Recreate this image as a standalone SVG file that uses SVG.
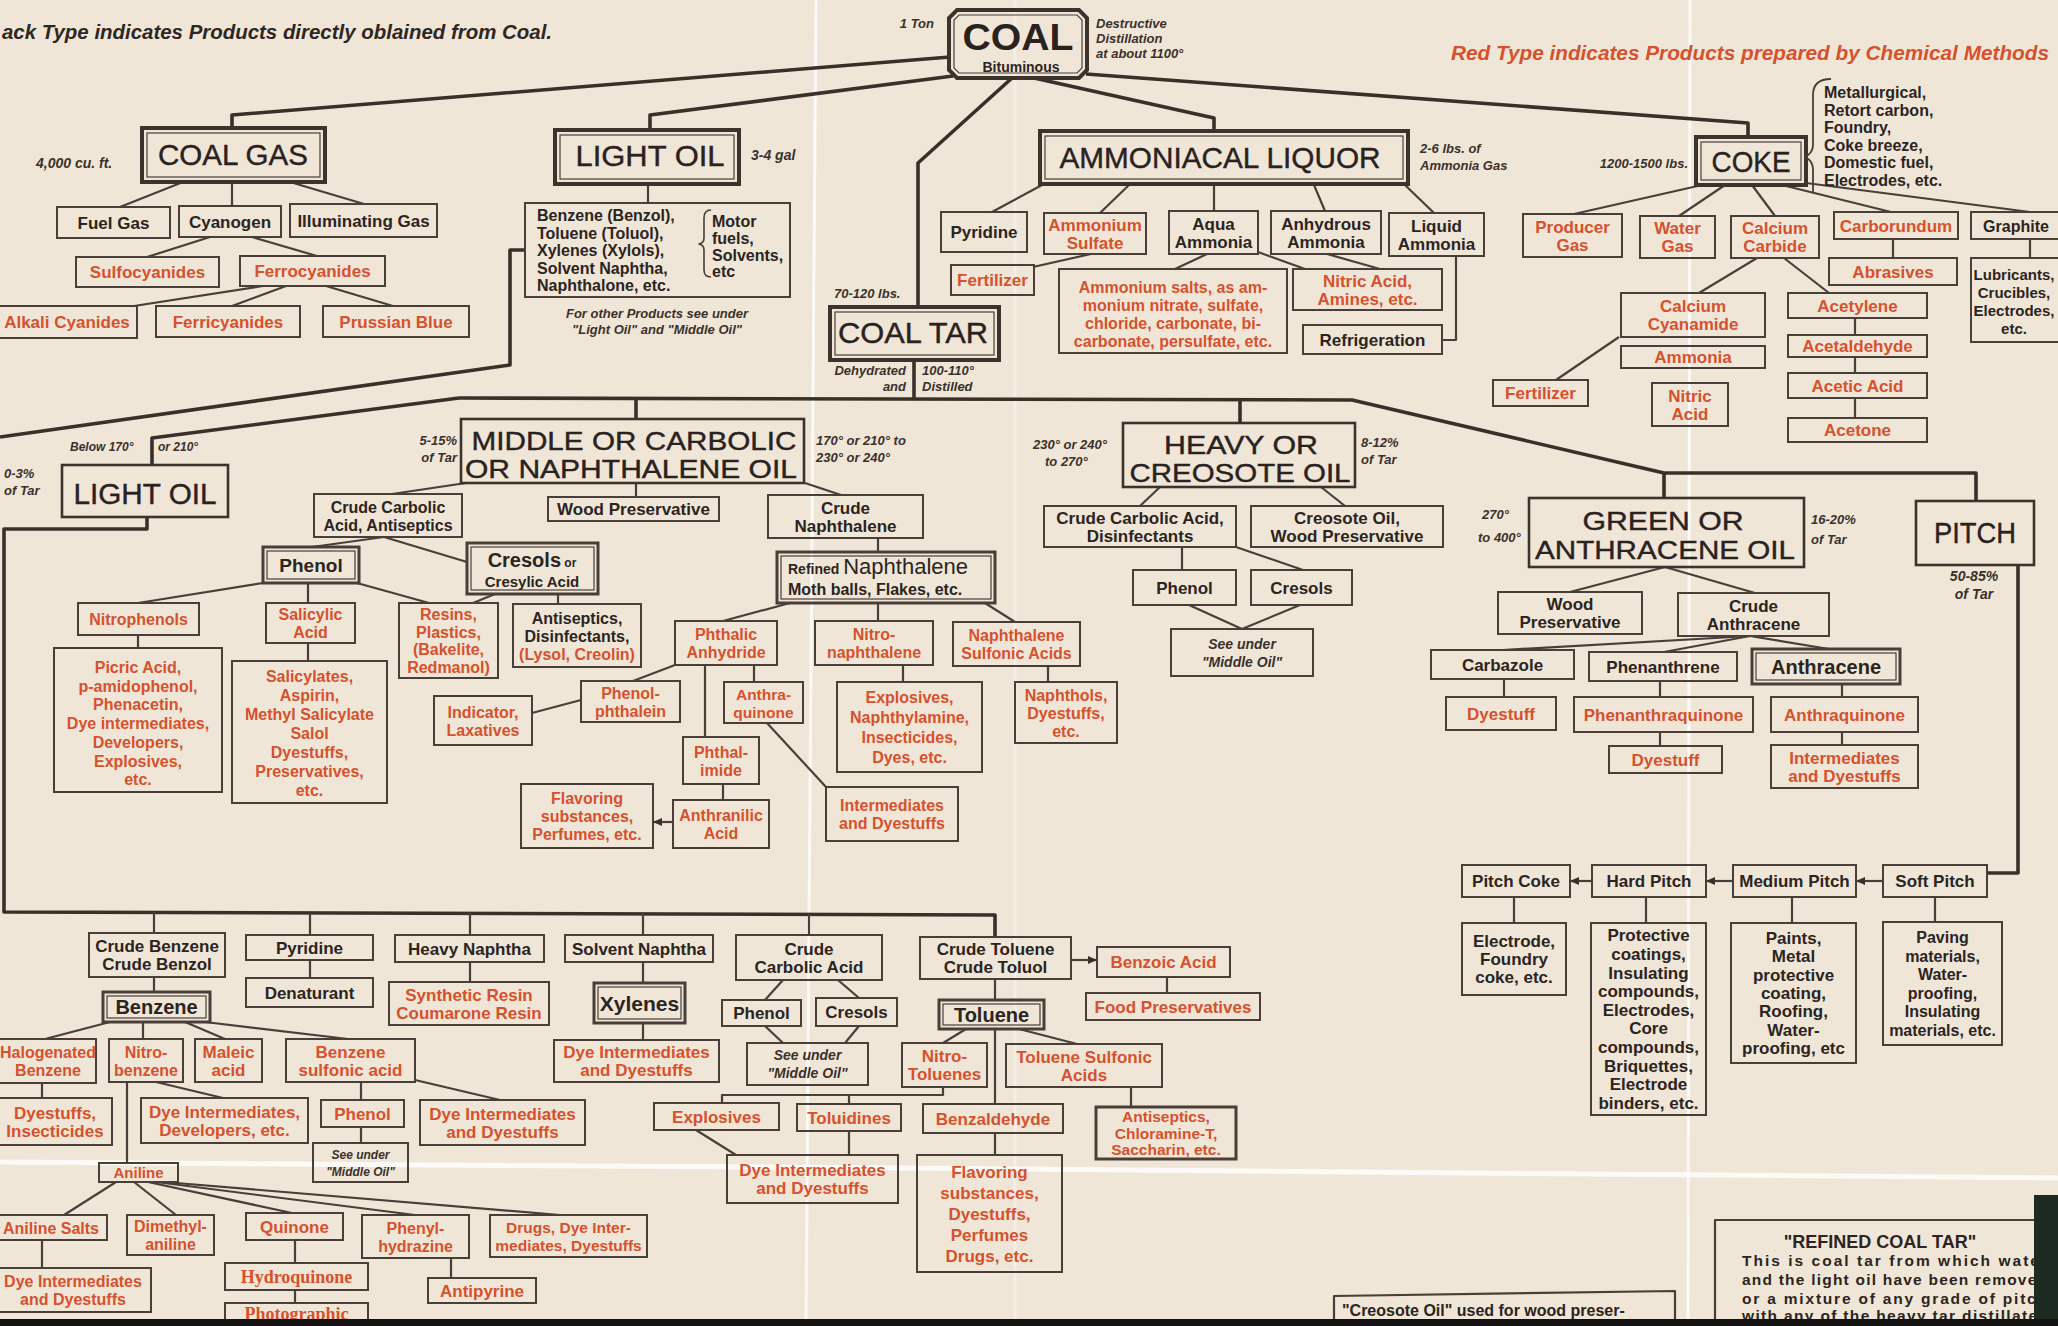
<svg xmlns="http://www.w3.org/2000/svg" width="2058" height="1326" viewBox="0 0 2058 1326">
<defs>
<style>
.b{fill:none;stroke:#4a3f38;stroke-width:2}
.D{fill:none;stroke:#3d332d;stroke-width:4}
.d{fill:none;stroke:#4a3f38;stroke-width:3}
.di{fill:none;stroke:#4a3f38;stroke-width:1.2}
.S{fill:none;stroke:#3d332d;stroke-width:2.6}
.L{fill:none;stroke:#4a3f38;stroke-width:2.2;stroke-linejoin:round}
.M{fill:none;stroke:#3a302a;stroke-width:3.6;stroke-linejoin:round}
.fold{fill:none;stroke:#ffffff;stroke-width:3;opacity:0.8}
text{font-family:"Liberation Sans",Arial,sans-serif}
.k{font-size:17px;font-weight:bold;fill:#2b2420;text-anchor:middle}
.r{font-size:17px;font-weight:bold;fill:#d6512d;text-anchor:middle}
.T{font-size:29px;fill:#2a221e;text-anchor:middle;stroke:#2a221e;stroke-width:0.4}
.T2{font-size:25.5px}
.n{font-size:13px;font-style:italic;font-weight:bold;fill:#3b312b}
.f16{font-size:16px}
.f15{font-size:15.5px}
.f14{font-size:14px}
.f20{font-size:20px}
.serif{font-family:"Liberation Serif","Times New Roman",serif}
.st{text-anchor:start}
.en{text-anchor:end}
.mi{text-anchor:middle}
</style>
<marker id="ah" markerWidth="9" markerHeight="8" refX="9" refY="4" orient="auto" markerUnits="userSpaceOnUse">
<path d="M0,0 L9,4 L0,8 Z" fill="#3a302a"/>
</marker>
</defs>
<rect x="0" y="0" width="2058" height="1326" fill="#f0e6d7"/>

<!-- fold lines of the photographed sheet -->
<g id="folds">
<line class="fold" x1="816" y1="0" x2="806" y2="1326"/>
<line class="fold" x1="1690" y1="0" x2="1688" y2="1326"/>
<line class="fold" x1="1015" y1="0" x2="1015" y2="1326" style="opacity:0.35"/>
<polyline class="fold" points="0,1162 900,1168 2058,1178" style="stroke-width:5"/>
</g>

<!-- headers -->
<g id="headers">
<text x="2" y="39" style="font-size:20px;font-style:italic;font-weight:bold;fill:#2e2622" textLength="550" lengthAdjust="spacingAndGlyphs">ack Type indicates Products directly oblained from Coal.</text>
<text x="1451" y="60" style="font-size:20px;font-style:italic;font-weight:bold;fill:#d6512d" textLength="598" lengthAdjust="spacingAndGlyphs">Red Type indicates Products prepared by Chemical Methods</text>
</g>

<g id="connectors">
<!-- from COAL -->
<polyline class="M" points="950,57 232,115 232,128"/>
<polyline class="M" points="953,76 650,115 650,130"/>
<polyline class="M" points="1012,78 918,163 918,307"/>
<polyline class="M" points="1034,78 1214,118 1214,131"/>
<polyline class="M" points="1086,74 1748,123 1748,137"/>
<!-- coal tar main -->
<polyline class="M" points="914,360 914,398"/>
<polyline class="M" points="459,398 1352,400 1664,473 1976,473 1976,501"/>
<polyline class="M" points="1664,473 1664,498"/>
<polyline class="M" points="459,398 152,438 152,465"/>
<polyline class="M" points="636,398 636,419"/>
<polyline class="M" points="1240,399 1240,423"/>
<polyline class="M" points="525,250 510,250 510,365 0,437"/>
<polyline class="M" points="147,517 147,529 4,529 4,912 995,915 995,937"/>
<polyline class="L" points="154,912 154,933"/>
<polyline class="L" points="310,913 310,935"/>
<polyline class="L" points="470,913 470,935"/>
<polyline class="L" points="643,913 643,935"/>
<polyline class="L" points="809,914 809,935"/>
<polyline class="M" points="2018,565 2018,873 1987,873"/>
<!-- coal gas -->
<line class="L" x1="183" y1="182" x2="120" y2="207"/>
<line class="L" x1="232" y1="182" x2="232" y2="206"/>
<line class="L" x1="290" y1="182" x2="364" y2="204"/>
<line class="L" x1="210" y1="237" x2="147" y2="257"/>
<line class="L" x1="252" y1="237" x2="317" y2="256"/>
<line class="L" x1="263" y1="286" x2="134" y2="306"/>
<line class="L" x1="286" y1="286" x2="232" y2="306"/>
<line class="L" x1="326" y1="286" x2="393" y2="306"/>
<!-- light oil top -->
<line class="L" x1="648" y1="184" x2="648" y2="203"/>
<!-- ammoniacal -->
<line class="L" x1="1042" y1="185" x2="992" y2="212"/>
<line class="L" x1="1129" y1="185" x2="1100" y2="213"/>
<line class="L" x1="1214" y1="185" x2="1214" y2="211"/>
<line class="L" x1="1314" y1="185" x2="1325" y2="211"/>
<line class="L" x1="1405" y1="185" x2="1434" y2="213"/>
<line class="L" x1="1091" y1="254" x2="1033" y2="267"/>
<line class="L" x1="1207" y1="254" x2="1175" y2="269"/>
<line class="L" x1="1258" y1="252" x2="1305" y2="269"/>
<line class="L" x1="1327" y1="254" x2="1380" y2="269"/>
<polyline class="L" points="1456,256 1456,340 1442,340"/>
<!-- coke -->
<line class="L" x1="1702" y1="185" x2="1574" y2="214"/>
<line class="L" x1="1725" y1="185" x2="1679" y2="216"/>
<line class="L" x1="1752" y1="185" x2="1775" y2="216"/>
<line class="L" x1="1782" y1="185" x2="1891" y2="212"/>
<line class="L" x1="1806" y1="183" x2="2030" y2="212"/>
<line class="L" x1="1893" y1="239" x2="1893" y2="258"/>
<line class="L" x1="2030" y1="239" x2="2030" y2="258"/>
<line class="L" x1="1757" y1="258" x2="1699" y2="293"/>
<line class="L" x1="1784" y1="258" x2="1829" y2="293"/>
<line class="L" x1="1619" y1="337" x2="1556" y2="380"/>
<line class="L" x1="1855" y1="318" x2="1855" y2="335"/>
<line class="L" x1="1855" y1="357" x2="1855" y2="373"/>
<line class="L" x1="1855" y1="398" x2="1855" y2="418"/>
<!-- middle oil -->
<line class="L" x1="466" y1="483" x2="392" y2="494"/>
<line class="L" x1="636" y1="483" x2="636" y2="497"/>
<line class="L" x1="805" y1="483" x2="841" y2="495"/>
<line class="L" x1="384" y1="537" x2="312" y2="547"/>
<line class="L" x1="384" y1="537" x2="467" y2="562"/>
<line class="L" x1="263" y1="583" x2="138" y2="603"/>
<line class="L" x1="308" y1="583" x2="308" y2="603"/>
<line class="L" x1="357" y1="583" x2="429" y2="603"/>
<line class="L" x1="495" y1="594" x2="473" y2="603"/>
<line class="L" x1="558" y1="594" x2="558" y2="604"/>
<line class="L" x1="138" y1="635" x2="138" y2="648"/>
<line class="L" x1="308" y1="643" x2="308" y2="661"/>
<line class="L" x1="878" y1="538" x2="878" y2="552"/>
<line class="L" x1="790" y1="603" x2="723" y2="621"/>
<line class="L" x1="878" y1="603" x2="878" y2="621"/>
<line class="L" x1="985" y1="603" x2="1015" y2="622"/>
<line class="L" x1="675" y1="665" x2="633" y2="681"/>
<line class="L" x1="581" y1="700" x2="532" y2="713"/>
<line class="L" x1="705" y1="665" x2="705" y2="737"/>
<line class="L" x1="754" y1="665" x2="754" y2="682"/>
<line class="L" x1="723" y1="784" x2="723" y2="800"/>
<line class="L" x1="673" y1="822" x2="653" y2="822" marker-end="url(#ah)"/>
<line class="L" x1="767" y1="723" x2="826" y2="787"/>
<line class="L" x1="903" y1="665" x2="903" y2="682"/>
<line class="L" x1="1048" y1="666" x2="1048" y2="682"/>
<!-- heavy oil -->
<line class="L" x1="1160" y1="487" x2="1140" y2="506"/>
<line class="L" x1="1321" y1="487" x2="1345" y2="506"/>
<line class="L" x1="1182" y1="547" x2="1182" y2="570"/>
<line class="L" x1="1236" y1="547" x2="1303" y2="570"/>
<line class="L" x1="1189" y1="605" x2="1242" y2="629"/>
<line class="L" x1="1300" y1="605" x2="1242" y2="629"/>
<!-- green oil -->
<line class="L" x1="1665" y1="567" x2="1570" y2="592"/>
<line class="L" x1="1665" y1="567" x2="1755" y2="593"/>
<line class="L" x1="1750" y1="636" x2="1503" y2="650"/>
<line class="L" x1="1750" y1="636" x2="1664" y2="652"/>
<line class="L" x1="1750" y1="636" x2="1829" y2="649"/>
<line class="L" x1="1504" y1="679" x2="1504" y2="697"/>
<line class="L" x1="1660" y1="681" x2="1660" y2="697"/>
<line class="L" x1="1842" y1="684" x2="1842" y2="697"/>
<line class="L" x1="1660" y1="732" x2="1660" y2="746"/>
<line class="L" x1="1842" y1="732" x2="1842" y2="745"/>
<!-- pitch -->
<line class="L" x1="1883" y1="881" x2="1856" y2="881" marker-end="url(#ah)"/>
<line class="L" x1="1733" y1="881" x2="1706" y2="881" marker-end="url(#ah)"/>
<line class="L" x1="1592" y1="881" x2="1570" y2="881" marker-end="url(#ah)"/>
<line class="L" x1="1514" y1="897" x2="1514" y2="923"/>
<line class="L" x1="1646" y1="897" x2="1646" y2="923"/>
<line class="L" x1="1792" y1="897" x2="1792" y2="923"/>
<line class="L" x1="1935" y1="897" x2="1935" y2="922"/>
<!-- light oil lower products -->
<line class="L" x1="154" y1="977" x2="154" y2="992"/>
<line class="L" x1="310" y1="960" x2="310" y2="978"/>
<line class="L" x1="470" y1="962" x2="470" y2="982"/>
<line class="L" x1="643" y1="962" x2="643" y2="983"/>
<line class="L" x1="643" y1="1023" x2="643" y2="1040"/>
<line class="L" x1="110" y1="1022" x2="45" y2="1039"/>
<line class="L" x1="143" y1="1022" x2="143" y2="1039"/>
<line class="L" x1="185" y1="1022" x2="225" y2="1039"/>
<line class="L" x1="205" y1="1022" x2="348" y2="1039"/>
<line class="L" x1="42" y1="1083" x2="42" y2="1098"/>
<line class="L" x1="156" y1="1082" x2="223" y2="1098"/>
<line class="L" x1="127" y1="1082" x2="127" y2="1163"/>
<line class="L" x1="361" y1="1082" x2="361" y2="1100"/>
<line class="L" x1="361" y1="1127" x2="361" y2="1143"/>
<line class="L" x1="415" y1="1080" x2="500" y2="1100"/>
<line class="L" x1="116" y1="1182" x2="64" y2="1215"/>
<line class="L" x1="134" y1="1182" x2="176" y2="1215"/>
<line class="L" x1="148" y1="1182" x2="292" y2="1213"/>
<line class="L" x1="156" y1="1182" x2="415" y2="1215"/>
<line class="L" x1="164" y1="1182" x2="560" y2="1215"/>
<line class="L" x1="42" y1="1240" x2="42" y2="1268"/>
<line class="L" x1="295" y1="1240" x2="295" y2="1263"/>
<line class="L" x1="295" y1="1290" x2="295" y2="1303"/>
<line class="L" x1="451" y1="1258" x2="451" y2="1278"/>
<line class="L" x1="783" y1="980" x2="765" y2="1000"/>
<line class="L" x1="838" y1="980" x2="859" y2="998"/>
<line class="L" x1="765" y1="1026" x2="783" y2="1043"/>
<line class="L" x1="859" y1="1026" x2="845" y2="1043"/>
<line class="L" x1="1071" y1="960" x2="1097" y2="960" marker-end="url(#ah)"/>
<line class="L" x1="1167" y1="977" x2="1167" y2="993"/>
<line class="L" x1="995" y1="979" x2="995" y2="1000"/>
<line class="L" x1="966" y1="1029" x2="943" y2="1043"/>
<line class="L" x1="1019" y1="1029" x2="1077" y2="1044"/>
<line class="L" x1="995" y1="1029" x2="995" y2="1104"/>
<polyline class="L" points="943,1087 943,1095 722,1095 722,1103"/>
<line class="L" x1="849" y1="1095" x2="849" y2="1104"/>
<line class="L" x1="696" y1="1130" x2="736" y2="1155"/>
<line class="L" x1="849" y1="1131" x2="849" y2="1155"/>
<line class="L" x1="995" y1="1133" x2="995" y2="1155"/>
<line class="L" x1="1131" y1="1087" x2="1131" y2="1107"/>
</g>

<!-- ===== TOP LEVEL ===== -->
<g id="n-coal">
<path class="D" d="M957,10 L1079,10 L1087,18 L1087,70 L1079,78 L957,78 L949,70 L949,18 Z"/>
<path class="di" d="M959,15 L1077,15 L1082,20 L1082,68 L1077,73 L959,73 L954,68 L954,20 Z"/>
<text x="1018" y="50" style="font-size:37px;font-weight:bold;fill:#2a221e;text-anchor:middle" textLength="111" lengthAdjust="spacingAndGlyphs">COAL</text>
<text class="k f14" x="1021" y="71.5">Bituminous</text>
<text class="n en" x="934" y="28">1 Ton</text>
<text class="n" x="1096" y="28">Destructive</text>
<text class="n" x="1096" y="43">Distillation</text>
<text class="n" x="1096" y="58">at about 1100°</text>
</g>

<g id="n-coalgas">
<rect class="D" x="142" y="128" width="183" height="54"/>
<rect class="di" x="147" y="133" width="173" height="44"/>
<text class="T" x="233" y="165" textLength="150" lengthAdjust="spacingAndGlyphs">COAL GAS</text>
<text class="n" x="36" y="168" style="font-size:14px">4,000 cu. ft.</text>
</g>
<g id="n-fuelgas"><rect class="b" x="57" y="207" width="113" height="31"/><text class="k" x="113.5" y="228.5">Fuel Gas</text></g>
<g id="n-cyanogen"><rect class="b" x="179" y="206" width="102" height="31"/><text class="k" x="230" y="227.5">Cyanogen</text></g>
<g id="n-illum"><rect class="b" x="290" y="204" width="147" height="33"/><text class="k" x="363.5" y="226.5">Illuminating Gas</text></g>
<g id="n-sulfo"><rect class="b" x="76" y="257" width="143" height="30"/><text class="r" x="147.5" y="278">Sulfocyanides</text></g>
<g id="n-ferro"><rect class="b" x="240" y="256" width="145" height="30"/><text class="r" x="312.5" y="277">Ferrocyanides</text></g>
<g id="n-alkali"><rect class="b" x="-4" y="306" width="141" height="32"/><text class="r" x="67" y="328">Alkali Cyanides</text></g>
<g id="n-ferri"><rect class="b" x="156" y="306" width="144" height="31"/><text class="r" x="228" y="327.5">Ferricyanides</text></g>
<g id="n-prussian"><rect class="b" x="323" y="306" width="146" height="31"/><text class="r" x="396" y="327.5">Prussian Blue</text></g>

<g id="n-lightoil1">
<rect class="D" x="555" y="130" width="184" height="54"/>
<rect class="di" x="560" y="135" width="174" height="44"/>
<text class="T" x="650" y="166" textLength="149" lengthAdjust="spacingAndGlyphs">LIGHT OIL</text>
<text class="n" x="751" y="160" style="font-size:14px">3-4 gal</text>
</g>
<g id="n-benzol">
<rect class="b" x="525" y="203" width="265" height="94"/>
<text class="k f16 st" x="537" y="221">Benzene (Benzol),</text>
<text class="k f16 st" x="537" y="238.5">Toluene (Toluol),</text>
<text class="k f16 st" x="537" y="256">Xylenes (Xylols),</text>
<text class="k f16 st" x="537" y="273.5">Solvent Naphtha,</text>
<text class="k f16 st" x="537" y="291">Naphthalone, etc.</text>
<path class="L" style="stroke-width:1.6" d="M711,210 Q704,210 704,218 L704,238 Q704,243 699,244 Q704,245 704,250 L704,270 Q704,277 711,277"/>
<text class="k f16 st" x="712" y="227">Motor</text>
<text class="k f16 st" x="712" y="244">fuels,</text>
<text class="k f16 st" x="712" y="261">Solvents,</text>
<text class="k f16 st" x="712" y="277">etc</text>
<text class="n mi" x="657" y="318">For other Products see under</text>
<text class="n mi" x="657" y="334">"Light Oil" and "Middle Oil"</text>
</g>

<g id="n-ammoniacal">
<rect class="D" x="1040" y="131" width="368" height="53"/>
<rect class="di" x="1045" y="136" width="358" height="43"/>
<text class="T" x="1220" y="168" textLength="321" lengthAdjust="spacingAndGlyphs">AMMONIACAL LIQUOR</text>
<text class="n" x="1420" y="153">2-6 lbs. of</text>
<text class="n" x="1420" y="170">Ammonia Gas</text>
</g>
<g id="n-pyridine1"><rect class="b" x="941" y="212" width="86" height="40"/><text class="k" x="984" y="238">Pyridine</text></g>
<g id="n-amsulf"><rect class="b" x="1044" y="213" width="102" height="41"/><text class="r" x="1095" y="230.5">Ammonium</text><text class="r" x="1095" y="248.5">Sulfate</text></g>
<g id="n-aqua"><rect class="b" x="1169" y="211" width="89" height="43"/><text class="k" x="1213.5" y="229.5">Aqua</text><text class="k" x="1213.5" y="247.5">Ammonia</text></g>
<g id="n-anhyd"><rect class="b" x="1271" y="211" width="110" height="43"/><text class="k" x="1326" y="229.5">Anhydrous</text><text class="k" x="1326" y="247.5">Ammonia</text></g>
<g id="n-liquid"><rect class="b" x="1389" y="213" width="95" height="43"/><text class="k" x="1436.5" y="231.5">Liquid</text><text class="k" x="1436.5" y="249.5">Ammonia</text></g>
<g id="n-fert1"><rect class="b" x="951" y="265" width="83" height="30"/><text class="r" x="992.5" y="286">Fertilizer</text></g>
<g id="n-amsalts"><rect class="b" x="1059" y="269" width="228" height="84"/>
<text class="r f16" x="1173" y="293">Ammonium salts, as am-</text>
<text class="r f16" x="1173" y="311">monium nitrate, sulfate,</text>
<text class="r f16" x="1173" y="329">chloride, carbonate, bi-</text>
<text class="r f16" x="1173" y="347">carbonate, persulfate, etc.</text></g>
<g id="n-nitric1"><rect class="b" x="1293" y="269" width="149" height="41"/><text class="r" x="1367.5" y="286.5">Nitric Acid,</text><text class="r" x="1367.5" y="304.5">Amines, etc.</text></g>
<g id="n-refrig"><rect class="b" x="1303" y="325" width="139" height="29"/><text class="k" x="1372.5" y="345.5">Refrigeration</text></g>

<g id="n-coke">
<rect class="D" x="1696" y="137" width="110" height="48"/>
<rect class="di" x="1701" y="142" width="100" height="38"/>
<text class="T" x="1751" y="172" textLength="79" lengthAdjust="spacingAndGlyphs">COKE</text>
<text class="n en" x="1688" y="168">1200-1500 lbs.</text>
<path class="L" style="stroke-width:1.8" d="M1831,79 Q1813,79 1813,95 L1813,145 Q1813,153 1805,157 Q1813,161 1813,169 L1813,192"/>
<text class="k f16 st" x="1824" y="98">Metallurgical,</text>
<text class="k f16 st" x="1824" y="116">Retort carbon,</text>
<text class="k f16 st" x="1824" y="133">Foundry,</text>
<text class="k f16 st" x="1824" y="151">Coke breeze,</text>
<text class="k f16 st" x="1824" y="168">Domestic fuel,</text>
<text class="k f16 st" x="1824" y="186">Electrodes, etc.</text>
</g>
<g id="n-producer"><rect class="b" x="1523" y="214" width="99" height="43"/><text class="r" x="1572.5" y="232.5">Producer</text><text class="r" x="1572.5" y="250.5">Gas</text></g>
<g id="n-watergas"><rect class="b" x="1640" y="216" width="75" height="42"/><text class="r" x="1677.5" y="234">Water</text><text class="r" x="1677.5" y="252">Gas</text></g>
<g id="n-calcarb"><rect class="b" x="1731" y="216" width="88" height="42"/><text class="r" x="1775" y="234">Calcium</text><text class="r" x="1775" y="252">Carbide</text></g>
<g id="n-carbor"><rect class="b" x="1834" y="212" width="124" height="27"/><text class="r" x="1896" y="231.5">Carborundum</text></g>
<g id="n-graphite"><rect class="b" x="1971" y="212" width="120" height="27"/><text class="k f16" x="2016" y="231.5">Graphite</text></g>
<g id="n-abrasives"><rect class="b" x="1829" y="258" width="128" height="27"/><text class="r" x="1893" y="277.5">Abrasives</text></g>
<g id="n-lubric"><rect class="b" x="1971" y="258" width="120" height="84"/>
<text class="k" x="2014" y="280" style="font-size:15px">Lubricants,</text><text class="k" x="2014" y="298" style="font-size:15px">Crucibles,</text><text class="k" x="2014" y="316" style="font-size:15px">Electrodes,</text><text class="k" x="2014" y="334" style="font-size:15px">etc.</text></g>
<g id="n-calcyan"><rect class="b" x="1621" y="293" width="144" height="44"/><text class="r" x="1693" y="312">Calcium</text><text class="r" x="1693" y="330">Cyanamide</text></g>
<g id="n-ammonia2"><rect class="b" x="1621" y="346" width="144" height="22"/><text class="r" x="1693" y="363">Ammonia</text></g>
<g id="n-fert2"><rect class="b" x="1493" y="380" width="95" height="26"/><text class="r" x="1540.5" y="399">Fertilizer</text></g>
<g id="n-nitric2"><rect class="b" x="1652" y="383" width="76" height="43"/><text class="r" x="1690" y="401.5">Nitric</text><text class="r" x="1690" y="419.5">Acid</text></g>
<g id="n-acetylene"><rect class="b" x="1788" y="293" width="139" height="25"/><text class="r" x="1857.5" y="311.5">Acetylene</text></g>
<g id="n-acetald"><rect class="b" x="1788" y="335" width="139" height="22"/><text class="r" x="1857.5" y="352">Acetaldehyde</text></g>
<g id="n-acetic"><rect class="b" x="1788" y="373" width="139" height="25"/><text class="r" x="1857.5" y="391.5">Acetic Acid</text></g>
<g id="n-acetone"><rect class="b" x="1788" y="418" width="139" height="24"/><text class="r" x="1857.5" y="436">Acetone</text></g>

<!-- ===== COAL TAR ===== -->
<g id="n-coaltar">
<rect class="D" x="830" y="307" width="169" height="53"/>
<rect class="di" x="835" y="312" width="159" height="43"/>
<text class="T" x="913" y="343" textLength="150" lengthAdjust="spacingAndGlyphs">COAL TAR</text>
<text class="n" x="834" y="298">70-120 lbs.</text>
<text class="n en" x="906" y="375">Dehydrated</text>
<text class="n en" x="906" y="391">and</text>
<text class="n" x="922" y="375">100-110°</text>
<text class="n" x="922" y="391">Distilled</text>
</g>

<g id="n-lightoil2">
<rect class="S" x="62" y="465" width="166" height="52"/>
<text class="T" x="145" y="504" textLength="143" lengthAdjust="spacingAndGlyphs">LIGHT OIL</text>
<text class="n" x="70" y="451" style="font-size:12px">Below 170°</text>
<text class="n" x="158" y="451" style="font-size:12px">or 210°</text>
<text class="n" x="4" y="478">0-3%</text>
<text class="n" x="4" y="495">of Tar</text>
</g>

<g id="n-middle">
<rect class="S" x="461" y="419" width="343" height="64"/>
<text class="T T2" x="634" y="450" textLength="325" lengthAdjust="spacingAndGlyphs">MIDDLE OR CARBOLIC</text>
<text class="T T2" x="631" y="477.5" textLength="332" lengthAdjust="spacingAndGlyphs">OR NAPHTHALENE OIL</text>
<text class="n en" x="457" y="445">5-15%</text>
<text class="n en" x="457" y="462">of Tar</text>
<text class="n" x="816" y="445">170° or 210° to</text>
<text class="n" x="816" y="462">230° or 240°</text>
</g>
<g id="n-crudecarb1"><rect class="b" x="314" y="494" width="148" height="43"/><text class="k f16" x="388" y="512.5">Crude Carbolic</text><text class="k f16" x="388" y="530.5">Acid, Antiseptics</text></g>
<g id="n-woodpres1"><rect class="b" x="548" y="497" width="171" height="24"/><text class="k" x="633.5" y="515">Wood Preservative</text></g>
<g id="n-crudenaph"><rect class="b" x="768" y="495" width="155" height="43"/><text class="k" x="845.5" y="513.5">Crude</text><text class="k" x="845.5" y="531.5">Naphthalene</text></g>
<g id="n-phenol1"><rect class="d" x="263" y="547" width="96" height="36"/><rect class="di" x="267" y="551" width="88" height="28"/><text class="k" x="311" y="572" style="font-size:19px">Phenol</text></g>
<g id="n-cresols1"><rect class="d" x="467" y="543" width="131" height="51"/><rect class="di" x="471" y="547" width="123" height="43"/>
<text class="k" x="532" y="567"><tspan style="font-size:20px">Cresols</tspan><tspan style="font-size:12px"> or</tspan></text>
<text class="k" x="532" y="587" style="font-size:15px">Cresylic Acid</text></g>
<g id="n-nitrophen"><rect class="b" x="78" y="603" width="121" height="32"/><text class="r f16" x="138.5" y="625">Nitrophenols</text></g>
<g id="n-salicylic"><rect class="b" x="266" y="603" width="89" height="40"/><text class="r f16" x="310.5" y="620">Salicylic</text><text class="r f16" x="310.5" y="638">Acid</text></g>
<g id="n-resins"><rect class="b" x="399" y="603" width="99" height="75"/>
<text class="r f16" x="448.5" y="620">Resins,</text><text class="r f16" x="448.5" y="637.5">Plastics,</text><text class="r f16" x="448.5" y="655">(Bakelite,</text><text class="r f16" x="448.5" y="672.5">Redmanol)</text></g>
<g id="n-antisep1"><rect class="b" x="513" y="604" width="128" height="63"/>
<text class="k f16" x="577" y="623.5">Antiseptics,</text><text class="k f16" x="577" y="641.5">Disinfectants,</text><text class="r f16" x="577" y="659.5">(Lysol, Creolin)</text></g>
<g id="n-picric"><rect class="b" x="54" y="648" width="168" height="144"/>
<text class="r f16" x="138" y="673">Picric Acid,</text>
<text class="r f16" x="138" y="691.7">p-amidophenol,</text>
<text class="r f16" x="138" y="710.4">Phenacetin,</text>
<text class="r f16" x="138" y="729.1">Dye intermediates,</text>
<text class="r f16" x="138" y="747.8">Developers,</text>
<text class="r f16" x="138" y="766.5">Explosives,</text>
<text class="r f16" x="138" y="785.2">etc.</text></g>
<g id="n-salicylates"><rect class="b" x="232" y="661" width="155" height="142"/>
<text class="r f16" x="309.5" y="682">Salicylates,</text>
<text class="r f16" x="309.5" y="701">Aspirin,</text>
<text class="r f16" x="309.5" y="720">Methyl Salicylate</text>
<text class="r f16" x="309.5" y="739">Salol</text>
<text class="r f16" x="309.5" y="758">Dyestuffs,</text>
<text class="r f16" x="309.5" y="777">Preservatives,</text>
<text class="r f16" x="309.5" y="796">etc.</text></g>
<g id="n-indicator"><rect class="b" x="434" y="696" width="98" height="49"/><text class="r f16" x="483" y="717.5">Indicator,</text><text class="r f16" x="483" y="735.5">Laxatives</text></g>
<g id="n-phenolphth"><rect class="b" x="581" y="681" width="99" height="41"/><text class="r f16" x="630.5" y="698.5">Phenol-</text><text class="r f16" x="630.5" y="716.5">phthalein</text></g>
<g id="n-refined"><rect class="d" x="777" y="552" width="218" height="51"/><rect class="di" x="781" y="556" width="210" height="43"/>
<text class="k st" x="788" y="574"><tspan style="font-size:14px">Refined </tspan><tspan style="font-size:22px;font-weight:normal">Naphthalene</tspan></text>
<text class="k f16 st" x="788" y="595">Moth balls, Flakes, etc.</text></g>
<g id="n-phthalic"><rect class="b" x="675" y="621" width="102" height="44"/><text class="r f16" x="726" y="640">Phthalic</text><text class="r f16" x="726" y="658">Anhydride</text></g>
<g id="n-anthraq1"><rect class="b" x="724" y="682" width="79" height="41"/><text class="r f15" x="763.5" y="699.5">Anthra-</text><text class="r f15" x="763.5" y="717.5">quinone</text></g>
<g id="n-phthalimide"><rect class="b" x="683" y="737" width="76" height="47"/><text class="r f16" x="721" y="757.5">Phthal-</text><text class="r f16" x="721" y="775.5">imide</text></g>
<g id="n-anthranilic"><rect class="b" x="673" y="800" width="96" height="48"/><text class="r f16" x="721" y="821">Anthranilic</text><text class="r f16" x="721" y="839">Acid</text></g>
<g id="n-flavor1"><rect class="b" x="521" y="784" width="132" height="64"/><text class="r f16" x="587" y="804">Flavoring</text><text class="r f16" x="587" y="822">substances,</text><text class="r f16" x="587" y="840">Perfumes, etc.</text></g>
<g id="n-intermed1"><rect class="b" x="826" y="787" width="132" height="54"/><text class="r f16" x="892" y="811">Intermediates</text><text class="r f16" x="892" y="829">and Dyestuffs</text></g>
<g id="n-nitronaph"><rect class="b" x="815" y="621" width="118" height="44"/><text class="r f16" x="874" y="640">Nitro-</text><text class="r f16" x="874" y="658">naphthalene</text></g>
<g id="n-explosives1"><rect class="b" x="837" y="682" width="145" height="90"/>
<text class="r f16" x="909.5" y="703">Explosives,</text><text class="r f16" x="909.5" y="723">Naphthylamine,</text><text class="r f16" x="909.5" y="743">Insecticides,</text><text class="r f16" x="909.5" y="763">Dyes, etc.</text></g>
<g id="n-naphsulf"><rect class="b" x="953" y="622" width="127" height="44"/><text class="r f16" x="1016.5" y="641">Naphthalene</text><text class="r f16" x="1016.5" y="659">Sulfonic Acids</text></g>
<g id="n-naphthols"><rect class="b" x="1015" y="682" width="102" height="61"/><text class="r f16" x="1066" y="700.5">Naphthols,</text><text class="r f16" x="1066" y="718.5">Dyestuffs,</text><text class="r f16" x="1066" y="736.5">etc.</text></g>

<!-- ===== HEAVY OIL ===== -->
<g id="n-heavy">
<rect class="S" x="1123" y="423" width="232" height="64"/>
<text class="T T2" x="1241" y="454" textLength="154" lengthAdjust="spacingAndGlyphs">HEAVY OR</text>
<text class="T T2" x="1240" y="481.5" textLength="221" lengthAdjust="spacingAndGlyphs">CREOSOTE OIL</text>
<text class="n" x="1033" y="449">230° or 240°</text>
<text class="n" x="1045" y="466">to 270°</text>
<text class="n" x="1361" y="447">8-12%</text>
<text class="n" x="1361" y="464">of Tar</text>
</g>
<g id="n-crudecarb2"><rect class="b" x="1044" y="506" width="192" height="41"/><text class="k" x="1140" y="523.5">Crude Carbolic Acid,</text><text class="k" x="1140" y="541.5">Disinfectants</text></g>
<g id="n-creosote"><rect class="b" x="1251" y="506" width="192" height="41"/><text class="k" x="1347" y="523.5">Creosote Oil,</text><text class="k" x="1347" y="541.5">Wood Preservative</text></g>
<g id="n-phenol2"><rect class="b" x="1133" y="570" width="103" height="35"/><text class="k" x="1184.5" y="593.5">Phenol</text></g>
<g id="n-cresols2"><rect class="b" x="1251" y="570" width="101" height="35"/><text class="k" x="1301.5" y="593.5">Cresols</text></g>
<g id="n-seeunder1"><rect class="b" x="1171" y="629" width="142" height="47"/><text class="n mi" x="1242" y="649" style="font-size:14px">See  under</text><text class="n mi" x="1242" y="667" style="font-size:14px">"Middle Oil"</text></g>

<!-- ===== GREEN OIL / PITCH ===== -->
<g id="n-green">
<rect class="S" x="1529" y="498" width="275" height="69"/>
<text class="T" x="1663" y="530" style="font-size:26px" textLength="161" lengthAdjust="spacingAndGlyphs">GREEN OR</text>
<text class="T" x="1665" y="559" style="font-size:26px" textLength="260" lengthAdjust="spacingAndGlyphs">ANTHRACENE OIL</text>
<text class="n" x="1482" y="519">270°</text>
<text class="n" x="1478" y="542">to 400°</text>
<text class="n" x="1811" y="524">16-20%</text>
<text class="n" x="1811" y="544">of Tar</text>
</g>
<g id="n-pitch">
<rect class="S" x="1916" y="501" width="118" height="64"/>
<text class="T" x="1975" y="543" textLength="82" lengthAdjust="spacingAndGlyphs">PITCH</text>
<text class="n mi" x="1974" y="581" style="font-size:14px">50-85%</text>
<text class="n mi" x="1974" y="599" style="font-size:14px">of Tar</text>
</g>
<g id="n-woodpres2"><rect class="b" x="1498" y="592" width="144" height="42"/><text class="k" x="1570" y="610">Wood</text><text class="k" x="1570" y="628">Preservative</text></g>
<g id="n-crudeanth"><rect class="b" x="1678" y="593" width="151" height="43"/><text class="k" x="1753.5" y="611.5">Crude</text><text class="k" x="1753.5" y="629.5">Anthracene</text></g>
<g id="n-carbazole"><rect class="b" x="1431" y="650" width="143" height="29"/><text class="k" x="1502.5" y="670.5">Carbazole</text></g>
<g id="n-phenanth"><rect class="b" x="1589" y="652" width="148" height="29"/><text class="k" x="1663" y="672.5">Phenanthrene</text></g>
<g id="n-anthracene"><rect class="d" x="1752" y="649" width="148" height="35"/><rect class="di" x="1756" y="653" width="140" height="27"/><text class="k f20" x="1826" y="673.5">Anthracene</text></g>
<g id="n-dyestuff1"><rect class="b" x="1446" y="697" width="110" height="33"/><text class="r" x="1501" y="719.5">Dyestuff</text></g>
<g id="n-phenanthq"><rect class="b" x="1574" y="697" width="179" height="35"/><text class="r" x="1663.5" y="720.5">Phenanthraquinone</text></g>
<g id="n-anthraq2"><rect class="b" x="1771" y="697" width="147" height="35"/><text class="r" x="1844.5" y="720.5">Anthraquinone</text></g>
<g id="n-dyestuff2"><rect class="b" x="1609" y="746" width="113" height="27"/><text class="r" x="1665.5" y="765.5">Dyestuff</text></g>
<g id="n-intermed2"><rect class="b" x="1771" y="745" width="147" height="43"/><text class="r" x="1844.5" y="763.5">Intermediates</text><text class="r" x="1844.5" y="781.5">and Dyestuffs</text></g>

<g id="n-pitchcoke"><rect class="b" x="1462" y="865" width="108" height="32"/><text class="k" x="1516" y="887">Pitch Coke</text></g>
<g id="n-hardpitch"><rect class="b" x="1592" y="865" width="114" height="32"/><text class="k" x="1649" y="887">Hard Pitch</text></g>
<g id="n-medpitch"><rect class="b" x="1733" y="865" width="123" height="32"/><text class="k" x="1794.5" y="887">Medium Pitch</text></g>
<g id="n-softpitch"><rect class="b" x="1883" y="865" width="104" height="32"/><text class="k" x="1935" y="887">Soft Pitch</text></g>
<g id="n-electrode"><rect class="b" x="1462" y="923" width="104" height="72"/><text class="k" x="1514" y="947">Electrode,</text><text class="k" x="1514" y="965">Foundry</text><text class="k" x="1514" y="983">coke, etc.</text></g>
<g id="n-protective"><rect class="b" x="1591" y="923" width="115" height="192"/>
<text class="k" x="1648.5" y="941.3">Protective</text>
<text class="k" x="1648.5" y="959.9">coatings,</text>
<text class="k" x="1648.5" y="978.5">Insulating</text>
<text class="k" x="1648.5" y="997.1">compounds,</text>
<text class="k" x="1648.5" y="1015.7">Electrodes,</text>
<text class="k" x="1648.5" y="1034.3">Core</text>
<text class="k" x="1648.5" y="1052.9">compounds,</text>
<text class="k" x="1648.5" y="1071.5">Briquettes,</text>
<text class="k" x="1648.5" y="1090.1">Electrode</text>
<text class="k" x="1648.5" y="1108.7">binders, etc.</text></g>
<g id="n-paints"><rect class="b" x="1731" y="923" width="125" height="140"/>
<text class="k" x="1793.5" y="943.8">Paints,</text>
<text class="k" x="1793.5" y="962.2">Metal</text>
<text class="k" x="1793.5" y="980.6">protective</text>
<text class="k" x="1793.5" y="999">coating,</text>
<text class="k" x="1793.5" y="1017.4">Roofing,</text>
<text class="k" x="1793.5" y="1035.8">Water-</text>
<text class="k" x="1793.5" y="1054.2">proofing, etc</text></g>
<g id="n-paving"><rect class="b" x="1883" y="922" width="119" height="123"/>
<text class="k f16" x="1942.5" y="943">Paving</text>
<text class="k f16" x="1942.5" y="961.6">materials,</text>
<text class="k f16" x="1942.5" y="980.2">Water-</text>
<text class="k f16" x="1942.5" y="998.8">proofing,</text>
<text class="k f16" x="1942.5" y="1017.4">Insulating</text>
<text class="k f16" x="1942.5" y="1036">materials, etc.</text></g>

<!-- ===== LIGHT OIL PRODUCTS (bottom) ===== -->
<g id="n-crudebenz"><rect class="b" x="89" y="933" width="136" height="44"/><text class="k" x="157" y="952">Crude Benzene</text><text class="k" x="157" y="970">Crude Benzol</text></g>
<g id="n-pyridine2"><rect class="b" x="246" y="935" width="127" height="25"/><text class="k" x="309.5" y="953.5">Pyridine</text></g>
<g id="n-denaturant"><rect class="b" x="246" y="978" width="127" height="29"/><text class="k" x="309.5" y="998.5">Denaturant</text></g>
<g id="n-heavynaph"><rect class="b" x="395" y="935" width="149" height="27"/><text class="k" x="469.5" y="954.5">Heavy Naphtha</text></g>
<g id="n-synres"><rect class="b" x="389" y="982" width="160" height="43"/><text class="r" x="469" y="1000.5">Synthetic Resin</text><text class="r" x="469" y="1018.5">Coumarone Resin</text></g>
<g id="n-solvnaph"><rect class="b" x="565" y="935" width="148" height="27"/><text class="k" x="639" y="954.5">Solvent Naphtha</text></g>
<g id="n-xylenes"><rect class="d" x="594" y="983" width="91" height="40"/><rect class="di" x="598" y="987" width="83" height="32"/><text class="k" x="639.5" y="1010.5" style="font-size:21px">Xylenes</text></g>
<g id="n-dyeint1"><rect class="b" x="554" y="1040" width="165" height="42"/><text class="r" x="636.5" y="1058">Dye Intermediates</text><text class="r" x="636.5" y="1076">and Dyestuffs</text></g>
<g id="n-benzene"><rect class="d" x="103" y="992" width="107" height="30"/><rect class="di" x="107" y="996" width="99" height="22"/><text class="k f20" x="156.5" y="1014">Benzene</text></g>
<g id="n-halogen"><rect class="b" x="-10" y="1039" width="106" height="44"/><text class="r f16" x="48" y="1058">Halogenated</text><text class="r f16" x="48" y="1076">Benzene</text></g>
<g id="n-nitrobenz"><rect class="b" x="109" y="1039" width="74" height="43"/><text class="r f16" x="146" y="1057.5">Nitro-</text><text class="r f16" x="146" y="1075.5">benzene</text></g>
<g id="n-maleic"><rect class="b" x="195" y="1039" width="67" height="43"/><text class="r" x="228.5" y="1057.5">Maleic</text><text class="r" x="228.5" y="1075.5">acid</text></g>
<g id="n-benzsulf"><rect class="b" x="286" y="1039" width="129" height="43"/><text class="r" x="350.5" y="1057.5">Benzene</text><text class="r" x="350.5" y="1075.5">sulfonic acid</text></g>
<g id="n-dyestuffsins"><rect class="b" x="-2" y="1098" width="114" height="47"/><text class="r" x="55" y="1118.5">Dyestuffs,</text><text class="r" x="55" y="1136.5">Insecticides</text></g>
<g id="n-dyeintdev"><rect class="b" x="141" y="1098" width="167" height="45"/><text class="r" x="224.5" y="1117.5">Dye Intermediates,</text><text class="r" x="224.5" y="1135.5">Developers, etc.</text></g>
<g id="n-phenol3"><rect class="b" x="321" y="1100" width="83" height="27"/><text class="r" x="362.5" y="1119.5">Phenol</text></g>
<g id="n-seeunder2"><rect class="b" x="313" y="1143" width="95" height="39"/><text class="n mi" x="360.5" y="1159" style="font-size:12px">See under</text><text class="n mi" x="360.5" y="1176" style="font-size:12px">"Middle Oil"</text></g>
<g id="n-dyeint2"><rect class="b" x="420" y="1100" width="165" height="45"/><text class="r" x="502.5" y="1119.5">Dye Intermediates</text><text class="r" x="502.5" y="1137.5">and Dyestuffs</text></g>
<g id="n-aniline"><rect class="b" x="99" y="1163" width="79" height="19"/><text class="r" x="138.5" y="1178" style="font-size:15px">Aniline</text></g>
<g id="n-anisalts"><rect class="b" x="-10" y="1215" width="117" height="25"/><text class="r f16" x="51" y="1233.5">Aniline Salts</text></g>
<g id="n-dimethyl"><rect class="b" x="127" y="1215" width="87" height="40"/><text class="r f16" x="170.5" y="1232">Dimethyl-</text><text class="r f16" x="170.5" y="1250">aniline</text></g>
<g id="n-quinone"><rect class="b" x="246" y="1213" width="97" height="27"/><text class="r" x="294.5" y="1232.5">Quinone</text></g>
<g id="n-phenylhyd"><rect class="b" x="362" y="1215" width="107" height="43"/><text class="r f16" x="415.5" y="1233.5">Phenyl-</text><text class="r f16" x="415.5" y="1251.5">hydrazine</text></g>
<g id="n-drugs"><rect class="b" x="490" y="1215" width="157" height="42"/><text class="r f15" x="568.5" y="1233">Drugs, Dye Inter-</text><text class="r f15" x="568.5" y="1251">mediates, Dyestuffs</text></g>
<g id="n-dyeint3"><rect class="b" x="-10" y="1268" width="161" height="44"/><text class="r f16" x="73" y="1287">Dye Intermediates</text><text class="r f16" x="73" y="1305">and Dyestuffs</text></g>
<g id="n-hydroq"><rect class="b" x="225" y="1263" width="143" height="27"/><text class="r serif" x="296.5" y="1282.5" style="font-size:18px">Hydroquinone</text></g>
<g id="n-photo"><rect class="b" x="225" y="1303" width="143" height="30"/><text class="r serif" x="296.5" y="1320" style="font-size:18px">Photographic</text></g>
<g id="n-antipyrine"><rect class="b" x="428" y="1278" width="108" height="25"/><text class="r" x="482" y="1296.5">Antipyrine</text></g>

<g id="n-crudecarb3"><rect class="b" x="736" y="935" width="146" height="45"/><text class="k" x="809" y="954.5">Crude</text><text class="k" x="809" y="972.5">Carbolic Acid</text></g>
<g id="n-phenol4"><rect class="b" x="722" y="1000" width="79" height="26"/><text class="k" x="761.5" y="1019">Phenol</text></g>
<g id="n-cresols3"><rect class="b" x="816" y="998" width="81" height="28"/><text class="k" x="856.5" y="1018">Cresols</text></g>
<g id="n-seeunder3"><rect class="b" x="747" y="1043" width="121" height="42"/><text class="n mi" x="807.5" y="1060" style="font-size:14px">See under</text><text class="n mi" x="807.5" y="1078" style="font-size:14px">"Middle Oil"</text></g>
<g id="n-crudetol"><rect class="b" x="920" y="937" width="151" height="42"/><text class="k" x="995.5" y="955">Crude Toluene</text><text class="k" x="995.5" y="973">Crude Toluol</text></g>
<g id="n-benzoic"><rect class="b" x="1097" y="947" width="133" height="30"/><text class="r" x="1163.5" y="968">Benzoic Acid</text></g>
<g id="n-foodpres"><rect class="b" x="1086" y="993" width="174" height="27"/><text class="r" x="1173" y="1012.5">Food Preservatives</text></g>
<g id="n-toluene"><rect class="d" x="939" y="1000" width="105" height="29"/><rect class="di" x="943" y="1004" width="97" height="21"/><text class="k f20" x="991.5" y="1021.5">Toluene</text></g>
<g id="n-nitrotol"><rect class="b" x="902" y="1043" width="85" height="44"/><text class="r" x="944.5" y="1062">Nitro-</text><text class="r" x="944.5" y="1080">Toluenes</text></g>
<g id="n-tolsulf"><rect class="b" x="1006" y="1044" width="156" height="43"/><text class="r" x="1084" y="1062.5">Toluene Sulfonic</text><text class="r" x="1084" y="1080.5">Acids</text></g>
<g id="n-explosives2"><rect class="b" x="654" y="1103" width="125" height="27"/><text class="r" x="716.5" y="1122.5">Explosives</text></g>
<g id="n-toluidines"><rect class="b" x="797" y="1104" width="104" height="27"/><text class="r" x="849" y="1123.5">Toluidines</text></g>
<g id="n-benzald"><rect class="b" x="923" y="1104" width="140" height="29"/><text class="r" x="993" y="1124.5">Benzaldehyde</text></g>
<g id="n-antisep2"><rect class="d" x="1096" y="1107" width="140" height="52"/><text class="r f15" x="1166" y="1122">Antiseptics,</text><text class="r f15" x="1166" y="1138.5">Chloramine-T,</text><text class="r f15" x="1166" y="1155">Saccharin, etc.</text></g>
<g id="n-dyeint4"><rect class="b" x="727" y="1155" width="171" height="48"/><text class="r" x="812.5" y="1176">Dye Intermediates</text><text class="r" x="812.5" y="1194">and Dyestuffs</text></g>
<g id="n-flavor2"><rect class="b" x="917" y="1155" width="145" height="117"/>
<text class="r" x="989.5" y="1177.5">Flavoring</text>
<text class="r" x="989.5" y="1198.5">substances,</text>
<text class="r" x="989.5" y="1219.5">Dyestuffs,</text>
<text class="r" x="989.5" y="1240.5">Perfumes</text>
<text class="r" x="989.5" y="1261.5">Drugs, etc.</text></g>

<!-- notes at the bottom -->
<g id="n-creosotenote">
<path class="L" d="M1334,1330 L1334,1296 L1675,1291 L1675,1330"/>
<text class="k st" x="1342" y="1316" style="font-size:16px">"Creosote Oil" used for wood preser-</text>
</g>
<g id="n-refinednote">
<rect class="L" x="1715" y="1220" width="330" height="115"/>
<text class="k" x="1880" y="1248" style="font-size:18px">"REFINED COAL TAR"</text>
<text class="k st f15" x="1742" y="1266" textLength="305" lengthAdjust="spacing">This is coal tar from which water</text>
<text class="k st f15" x="1742" y="1285" textLength="305" lengthAdjust="spacing">and the light oil have been removed</text>
<text class="k st f15" x="1742" y="1304" textLength="305" lengthAdjust="spacing">or a mixture of any grade of pitch</text>
<text class="k st f15" x="1742" y="1321" textLength="305" lengthAdjust="spacing">with any of the heavy tar distillates</text>
</g>

<!-- scan edges -->
<g id="edges">
<rect x="2034" y="1195" width="24" height="131" fill="#1d2a22"/>
<rect x="0" y="1319" width="2058" height="7" fill="#121212"/>
</g>
</svg>
